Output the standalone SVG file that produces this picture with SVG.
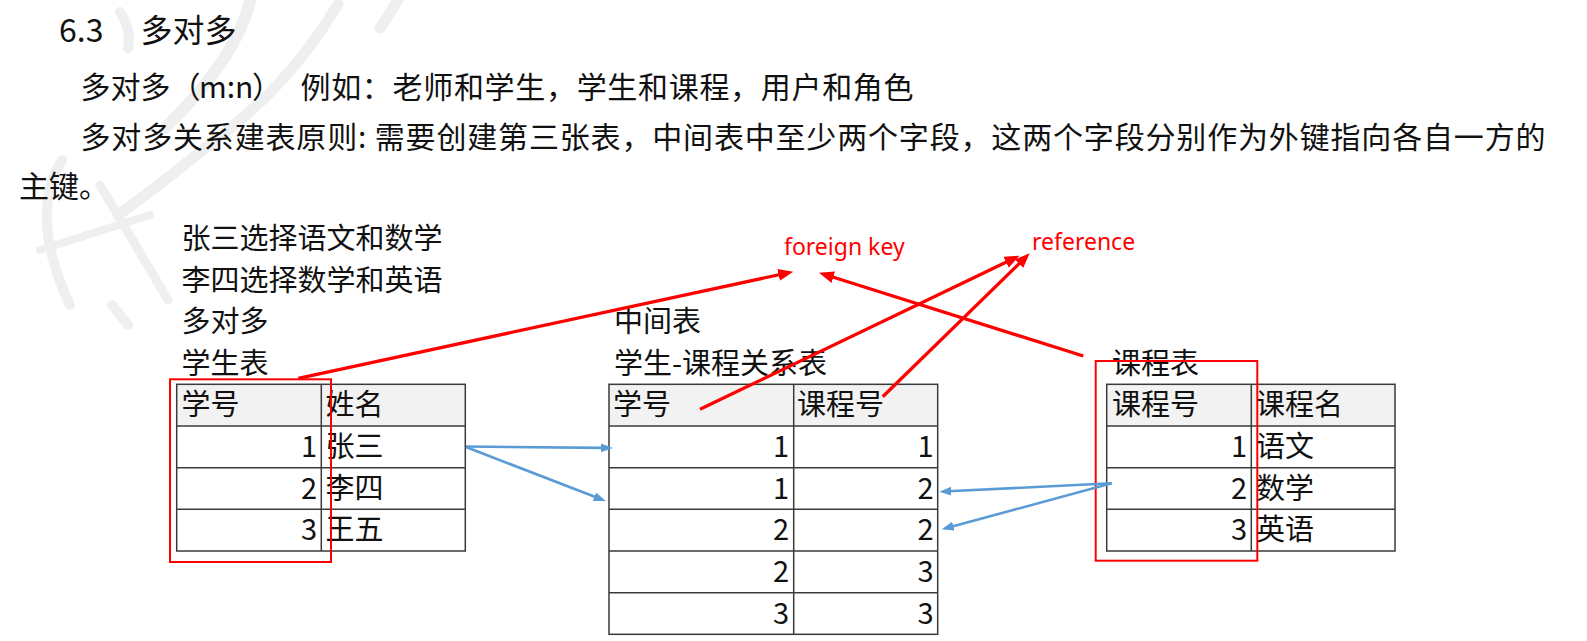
<svg xmlns="http://www.w3.org/2000/svg" width="1587" height="641" viewBox="0 0 1587 641">
<style>
  .t { font-family: "Noto Sans CJK SC", "Noto Sans", sans-serif; fill: #111; }
  .h { font-size: 32px; }
  .p { font-size: 30px; }
  .d { font-size: 29px; }
  .r { text-anchor: end; }
  .lat { font-family: "Noto Sans", "Noto Sans CJK SC", sans-serif; font-size: 23px; fill: #ff0000; }
  .grid { fill: none; stroke: #3a3a3a; stroke-width: 1.5; }
  .hdr { fill: #f2f2f2; stroke: none; }
  .hl { fill: none; stroke: #ff0000; stroke-width: 2; }
  .red { stroke: #ff0000; stroke-width: 3.3; fill: none; }
  .blue { stroke: #5b9bd5; stroke-width: 2.6; fill: none; }
  .wm { fill: none; stroke: #efefef; stroke-linecap: round; stroke-linejoin: round; }
</style>
<defs>
  <marker id="ar" markerUnits="userSpaceOnUse" markerWidth="17" markerHeight="13" refX="4" refY="6" orient="auto">
    <path d="M0,0 L15,6 L0,12 z" fill="#ff0000"/>
  </marker>
  <marker id="ab" markerUnits="userSpaceOnUse" markerWidth="14" markerHeight="10" refX="3" refY="4.5" orient="auto">
    <path d="M0,0 L12,4.5 L0,9 z" fill="#5b9bd5"/>
  </marker>
</defs>
<rect width="1587" height="641" fill="#ffffff"/>

<g id="watermark" class="wm">
  <path d="M250 2 Q235 60 165 128" stroke-width="12"/>
  <path d="M338 4 Q290 85 215 140 Q160 185 118 215" stroke-width="11"/>
  <path d="M398 0 L380 28" stroke-width="11"/>
  <path d="M120 12 Q132 30 128 48" stroke-width="10"/>
  <path d="M62 160 Q28 215 70 305" stroke-width="10"/>
  <path d="M100 185 L168 300" stroke-width="9"/>
  <path d="M40 250 L150 215" stroke-width="8"/>
  <path d="M112 305 L128 325" stroke-width="10"/>
</g>

<g id="title">
  <text class="t h" x="59" y="41.5">6.3</text>
  <text class="t h" x="140.5" y="41.5">多对多</text>
</g>
<g id="paragraphs">
  <text class="t p" x="80.5" y="97.5">多对多（</text>
  <text class="t p" x="199" y="97.5">m:n</text>
  <text class="t p" x="252" y="97.5">）</text>
  <text class="t p" x="300.5" y="97.5" textLength="613">例如：老师和学生，学生和课程，用户和角色</text>
  <text class="t p" x="80.5" y="147.5" textLength="1465">多对多关系建表原则: 需要创建第三张表，中间表中至少两个字段，这两个字段分别作为外键指向各自一方的</text>
  <text class="t p" x="19" y="197">主键。</text>
</g>

<g id="notes">
  <text class="t d" x="181.5" y="249">张三选择语文和数学</text>
  <text class="t d" x="181.5" y="290.7">李四选择数学和英语</text>
  <text class="t d" x="181.5" y="332.4">多对多</text>
  <text class="t d" x="181.5" y="374">学生表</text>
  <text class="t d" x="614" y="332.4">中间表</text>
  <text class="t d" x="614" y="374">学生-课程关系表</text>
  <text class="t d" x="1112" y="374">课程表</text>
</g>

<g id="student-table">
  <rect class="hdr" x="176.7" y="384.3" width="288.6" height="41.7"/>
  <rect class="grid" x="176.7" y="384.3" width="288.6" height="166.7"/>
  <path class="grid" d="M321.3 384.3 V551 M176.7 426 H465.3 M176.7 467.7 H465.3 M176.7 509.3 H465.3"/>
  <text class="t d" x="181.5" y="415">学号</text>
  <text class="t d" x="325.5" y="415">姓名</text>
  <text class="t d r" x="317" y="457">1</text>
  <text class="t d" x="325.5" y="457">张三</text>
  <text class="t d r" x="317" y="498.7">2</text>
  <text class="t d" x="325.5" y="498.7">李四</text>
  <text class="t d r" x="317" y="540.3">3</text>
  <text class="t d" x="325.5" y="540.3">王五</text>
</g>

<g id="middle-table">
  <rect class="hdr" x="609" y="384.3" width="328.7" height="41.7"/>
  <rect class="grid" x="609" y="384.3" width="328.7" height="250"/>
  <path class="grid" d="M793.7 384.3 V634.3 M609 426 H937.7 M609 467.7 H937.7 M609 509.3 H937.7 M609 551 H937.7 M609 592.7 H937.7"/>
  <text class="t d" x="613" y="415">学号</text>
  <text class="t d" x="797" y="415">课程号</text>
  <text class="t d r" x="789" y="457">1</text><text class="t d r" x="933.5" y="457">1</text>
  <text class="t d r" x="789" y="498.7">1</text><text class="t d r" x="933.5" y="498.7">2</text>
  <text class="t d r" x="789" y="540.3">2</text><text class="t d r" x="933.5" y="540.3">2</text>
  <text class="t d r" x="789" y="582">2</text><text class="t d r" x="933.5" y="582">3</text>
  <text class="t d r" x="789" y="623.7">3</text><text class="t d r" x="933.5" y="623.7">3</text>
</g>

<g id="course-table">
  <rect class="hdr" x="1106.7" y="384.3" width="288.3" height="41.7"/>
  <rect class="grid" x="1106.7" y="384.3" width="288.3" height="166.7"/>
  <path class="grid" d="M1251.3 384.3 V551 M1106.7 426 H1395 M1106.7 467.7 H1395 M1106.7 509.3 H1395"/>
  <text class="t d" x="1112" y="415">课程号</text>
  <text class="t d" x="1256" y="415">课程名</text>
  <text class="t d r" x="1247" y="457">1</text>
  <text class="t d" x="1256" y="457">语文</text>
  <text class="t d r" x="1247" y="498.7">2</text>
  <text class="t d" x="1256" y="498.7">数学</text>
  <text class="t d r" x="1247" y="540.3">3</text>
  <text class="t d" x="1256" y="540.3">英语</text>
</g>

<g id="highlights">
  <rect class="hl" x="170" y="379.3" width="161" height="182.7"/>
  <rect class="hl" x="1095.7" y="361" width="161.6" height="199.7"/>
</g>

<g id="labels">
  <text class="lat" x="784" y="254.5">foreign key</text>
  <text class="lat" x="1032" y="250">reference</text>
</g>

<g id="connectors">
  <line class="red" x1="298.3" y1="378.3" x2="782.5" y2="274" marker-end="url(#ar)"/>
  <line class="red" x1="1083.3" y1="356" x2="829.5" y2="276" marker-end="url(#ar)"/>
  <line class="red" x1="700" y1="409.3" x2="1009.6" y2="260.5" marker-end="url(#ar)"/>
  <line class="red" x1="882.7" y1="396.7" x2="1021.8" y2="261" marker-end="url(#ar)"/>
  <line class="blue" x1="466" y1="446.5" x2="603.8" y2="447.9" marker-end="url(#ab)"/>
  <line class="blue" x1="466" y1="447" x2="597.3" y2="497.8" marker-end="url(#ab)"/>
  <line class="blue" x1="1111.7" y1="483.3" x2="948.3" y2="491.3" marker-end="url(#ab)"/>
  <line class="blue" x1="1111.7" y1="483.3" x2="950.4" y2="527" marker-end="url(#ab)"/>
</g>
</svg>
